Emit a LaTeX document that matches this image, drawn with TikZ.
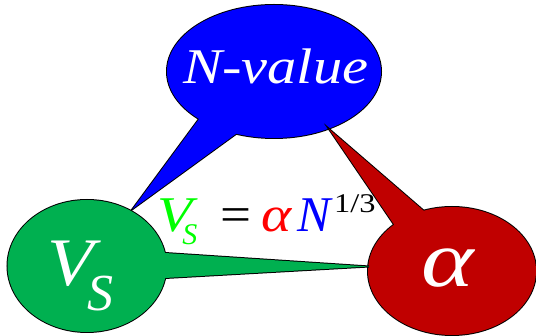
\documentclass[tikz,border=0pt]{standalone}
\usepackage{fontspec}
\usepackage{graphicx}
\setmainfont{Liberation Serif}
\usetikzlibrary{calc}
\definecolor{cblue}{HTML}{0000FF}
\definecolor{cgreen}{HTML}{00B050}
\definecolor{cred}{HTML}{C00000}
\definecolor{fgreen}{HTML}{00FF00}
\definecolor{fred}{HTML}{FF0000}
\definecolor{fblue}{HTML}{0000FF}
\begin{document}
\begin{tikzpicture}[x=1pt,y=-1pt,
  outl/.style={draw=black,line width=2pt},
  lbl/.style={inner sep=0pt,anchor=base west},
  fs/.style={font=\fontsize{#1}{#1}\selectfont\itshape}]
\useasboundingbox (0,0) rectangle (536,336);
% blue callout (N-value)
\coordinate (bc) at (274,71.5);
\coordinate (bt) at (132.6,209);
\coordinate (bb1) at (199,119);
\coordinate (bb2) at (234.5,135);
\path[outl] (bc) ellipse [x radius=107pt,y radius=66.5pt];
\path[outl] (bt) -- ($(bt)!1.25!(bb1)$) -- ($(bt)!1.25!(bb2)$) -- cycle;
\fill[cblue] (bc) ellipse [x radius=107pt,y radius=66.5pt];
\fill[cblue] (bt) -- ($(bt)!1.25!(bb1)$) -- ($(bt)!1.25!(bb2)$) -- cycle;
% red callout (alpha)
\coordinate (rc) at (452,271);
\coordinate (rt) at (329,129);
\coordinate (rb1) at (393,223);
\coordinate (rb2) at (420.5,208);
\path[outl] (rc) ellipse [x radius=84pt,y radius=64pt];
\path[outl] (rt) -- ($(rt)!1.25!(rb1)$) -- ($(rt)!1.25!(rb2)$) -- cycle;
\fill[cred] (rc) ellipse [x radius=84pt,y radius=64pt];
\fill[cred] (rt) -- ($(rt)!1.25!(rb1)$) -- ($(rt)!1.25!(rb2)$) -- cycle;
% green callout (V_S)
\coordinate (gc) at (87,266);
\coordinate (gt) at (369,266.5);
\coordinate (gb1) at (165,253);
\coordinate (gb2) at (165,278);
\path[outl] (gc) ellipse [x radius=79.5pt,y radius=66pt];
\path[outl] (gt) -- ($(gt)!1.15!(gb1)$) -- ($(gt)!1.15!(gb2)$) -- cycle;
\fill[cgreen] (gc) ellipse [x radius=79.5pt,y radius=66pt];
\fill[cgreen] (gt) -- ($(gt)!1.15!(gb1)$) -- ($(gt)!1.15!(gb2)$) -- cycle;
% labels
\node[lbl,fs=50,text=white] (nv) at (183,83.3) {\scalebox{1.17}[1]{N-value}};
\node[lbl,fs=68,text=white] (vv) at (47,286)
  {\scalebox{1.12}[1]{V}\kern-6.5pt\raisebox{-24.7pt}{\fontsize{52}{52}\selectfont S}};
\node[lbl,fs=80,text=white] (al) at (421,287) {\scalebox{1.25}[1]{α}};
% formula
\node[lbl,fs=50,text=fgreen] (fv) at (157,231.7)
  {\scalebox{1.15}[1]{V}\kern-10pt\raisebox{-13.3pt}{\fontsize{30}{30}\selectfont S}};
\node[lbl,font=\fontsize{50}{50}\selectfont] (feq) at (220,231.7) {\scalebox{1.1}[1]{=}};
\node[lbl,fs=50,text=fred] (fa) at (261,231.7) {\scalebox{1.15}[1]{α}};
\node[lbl,fs=50,text=fblue] (fn) at (297,231.7) {N};
\node[lbl,font=\fontsize{27}{27}\selectfont] (fe) at (334,213) {\scalebox{1.2}[1]{1/3}};
\end{tikzpicture}
\end{document}
